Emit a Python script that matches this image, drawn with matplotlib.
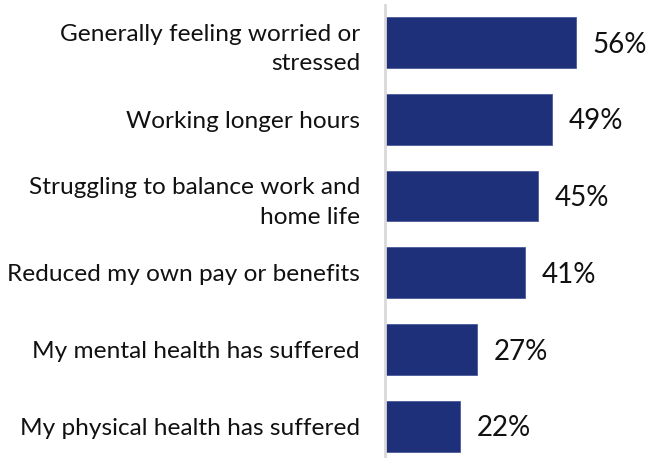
import matplotlib.pyplot as plt

plt.rcParams['font.family'] = ['Lato', 'DejaVu Sans']

labels = ['Generally feeling worried or\nstressed',
          'Working longer hours',
          'Struggling to balance work and\nhome life',
          'Reduced my own pay or benefits',
          'My mental health has suffered',
          'My physical health has suffered']
values = [56, 49, 45, 41, 27, 22]

fig = plt.figure(figsize=(6.51, 4.58), dpi=100)
ax = fig.add_axes([385 / 651, 1 / 458, 266 / 651, 452 / 458])

bars = ax.barh(range(len(values)), values, height=0.66, color='#1f307a',
               edgecolor='#4a5a9a', linewidth=0.6)
for i, v in enumerate(values):
    ax.annotate(f'{v}%', (v, i), xytext=(12, -1.5), textcoords='offset points',
                ha='left', va='center', fontsize=20, color='#111111')

ax.set_yticks(range(len(values)))
ax.set_yticklabels(labels, fontsize=17.6, color='#111111', linespacing=1.5)
ax.tick_params(axis='y', length=0, pad=18)
ax.set_xticks([])
ax.set_xlim(0, 78)
ax.set_ylim(5.4, -0.49)
for s in ['top', 'right', 'bottom']:
    ax.spines[s].set_visible(False)
ax.spines['left'].set_color('#d9d9d9')
ax.spines['left'].set_linewidth(2)

fig.savefig('out.png', dpi=100)
